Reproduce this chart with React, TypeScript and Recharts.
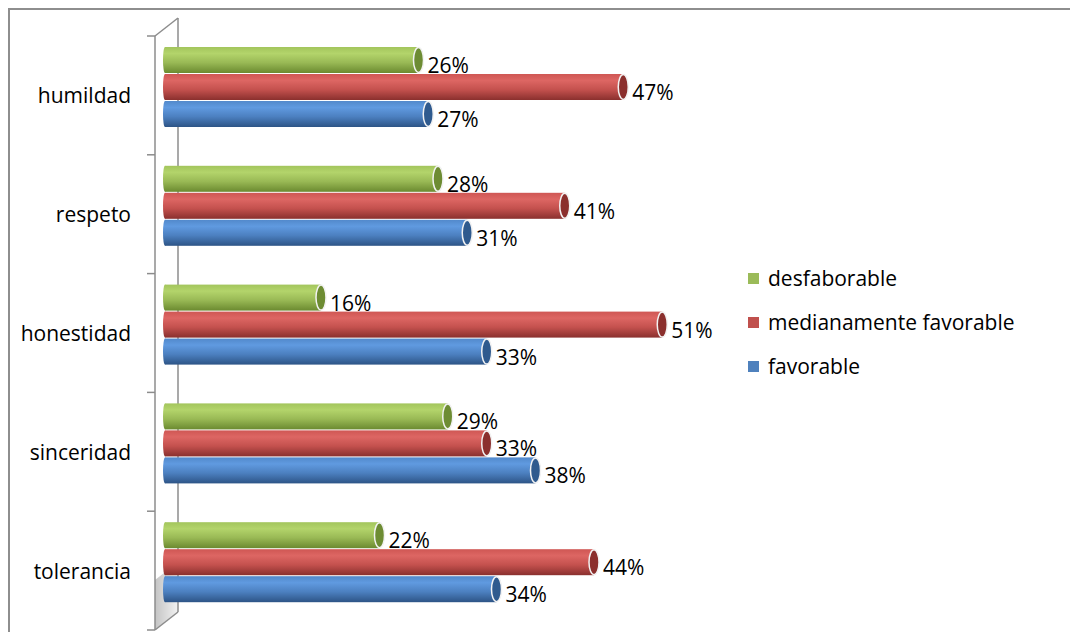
import React from 'react';
import { BarChart, Bar, XAxis, YAxis, Legend, LabelList } from 'recharts';

const categories = ['humildad', 'respeto', 'honestidad', 'sinceridad', 'tolerancia'];
const seriesNames = ['desfaborable', 'medianamente favorable', 'favorable'];
const desfaborable = [26, 28, 16, 29, 22];
const medianamente = [47, 41, 51, 33, 44];
const favorable = [27, 31, 33, 38, 34];

const data = categories.map((name, i) => ({
  name,
  desf: desfaborable[i],
  med: medianamente[i],
  fav: favorable[i],
}));

const FONT = '"Open Sans", sans-serif';
const CHART_W = 1064;
const CHART_H = 640;
const PLOT_LEFT = 155;
const PLOT_W = 585;
const PLOT_TOP = 18;
const PLOT_H = 594;
const BAND = PLOT_H / categories.length;
// 3D wall offset (front face sits lower-left of the bars)
const FRONT_X = 145;
const BACK_X = 168;
const DEPTH_Y = 18;
const FRONT_DY = 8;

function Cylinder(props: any) {
  const { x, y, width, height, gradId, capColor } = props;
  if (!width || width <= 0) return null;
  const cy = y + height / 2;
  return (
    <g>
      <ellipse cx={x} cy={cy} rx={2} ry={height / 2} fill={`url(#${gradId})`} />
      <rect x={x} y={y} width={width} height={height} fill={`url(#${gradId})`} />
      <ellipse
        cx={x + width}
        cy={cy}
        rx={5}
        ry={height / 2 - 0.5}
        fill={capColor}
        stroke="#f2f2f2"
        strokeWidth={1.5}
      />
    </g>
  );
}

function ValueLabel(props: any) {
  const { x, y, width, height, value } = props;
  return (
    <text
      x={x + width + 9}
      y={y + height / 2 + 5}
      dominantBaseline="central"
      fontFamily={FONT}
      fontSize={21}
      fill="#000"
    >
      {value}%
    </text>
  );
}

function CategoryTick(props: any) {
  const { y, payload } = props;
  return (
    <text
      x={121}
      y={y + FRONT_DY}
      textAnchor="end"
      dominantBaseline="central"
      fontFamily={FONT}
      fontSize={21}
      fill="#000"
    >
      {payload.value}
    </text>
  );
}

function LegendBox(props: any) {
  const { payload } = props;
  const items = [...(payload || [])].sort(
    (a: any, b: any) => seriesNames.indexOf(a.value) - seriesNames.indexOf(b.value)
  );
  return (
    <div style={{ fontFamily: FONT, fontSize: 21, color: '#000' }}>
      {items.map((p: any) => (
        <div key={p.value} style={{ display: 'flex', alignItems: 'center', height: 44 }}>
          <span
            style={{ width: 11, height: 11, background: p.color, marginRight: 9, display: 'inline-block' }}
          />
          <span>{p.value}</span>
        </div>
      ))}
    </div>
  );
}

function Wall() {
  const frontTop = PLOT_TOP + FRONT_DY;
  const frontBottom = frontTop + PLOT_H;
  const ticks = Array.from({ length: categories.length + 1 }, (_, i) => frontTop + i * BAND);
  return (
    <svg
      width={CHART_W}
      height={CHART_H}
      style={{ position: 'absolute', left: 0, top: 0 }}
    >
      <defs>
        <linearGradient id="floorShade" x1="0" y1="0" x2="1" y2="0">
          <stop offset="0" stopColor="#c4c4c4" />
          <stop offset="1" stopColor="#f2f2f2" />
        </linearGradient>
      </defs>
      <polygon
        points={`${FRONT_X},${frontBottom - 50} ${BACK_X},${frontBottom - 50 - DEPTH_Y} ${BACK_X},${frontBottom - DEPTH_Y} ${FRONT_X},${frontBottom}`}
        fill="url(#floorShade)"
      />
      <line x1={BACK_X} y1={frontTop - DEPTH_Y} x2={BACK_X} y2={frontBottom - DEPTH_Y} stroke="#8c8c8c" strokeWidth={1.5} />
      <line x1={FRONT_X} y1={frontTop} x2={FRONT_X} y2={frontBottom} stroke="#8c8c8c" strokeWidth={1.5} />
      <line x1={FRONT_X} y1={frontTop} x2={BACK_X} y2={frontTop - DEPTH_Y} stroke="#8c8c8c" strokeWidth={1.5} />
      <line x1={FRONT_X} y1={frontBottom} x2={BACK_X} y2={frontBottom - DEPTH_Y} stroke="#8c8c8c" strokeWidth={1.5} />
      {ticks.map((t, i) => (
        <line key={i} x1={FRONT_X - 8} y1={t} x2={FRONT_X} y2={t} stroke="#8c8c8c" strokeWidth={1.5} />
      ))}
    </svg>
  );
}

export default function App() {
  return (
    <div
      style={{
        width: CHART_W,
        height: CHART_H,
        border: '2px solid #8e8e8e',
        position: 'relative',
        background: '#fff',
      }}
    >
      <Wall />
      <div style={{ position: 'absolute', left: 0, top: 0 }}>
        <BarChart
          width={CHART_W}
          height={CHART_H}
          data={data}
          layout="vertical"
          barSize={26}
          barGap={1}
          margin={{ top: PLOT_TOP, right: CHART_W - PLOT_LEFT - PLOT_W, bottom: CHART_H - PLOT_TOP - PLOT_H, left: 0 }}
        >
          <defs>
            <linearGradient id="gGreen" x1="0" y1="0" x2="0" y2="1">
              <stop offset="0" stopColor="#a3c55c" />
              <stop offset="0.25" stopColor="#b3d46b" />
              <stop offset="0.6" stopColor="#99b955" />
              <stop offset="1" stopColor="#6b8a30" />
            </linearGradient>
            <linearGradient id="gRed" x1="0" y1="0" x2="0" y2="1">
              <stop offset="0" stopColor="#cf5754" />
              <stop offset="0.25" stopColor="#dd6663" />
              <stop offset="0.6" stopColor="#c4514e" />
              <stop offset="1" stopColor="#8a302e" />
            </linearGradient>
            <linearGradient id="gBlue" x1="0" y1="0" x2="0" y2="1">
              <stop offset="0" stopColor="#5289cb" />
              <stop offset="0.25" stopColor="#609ae0" />
              <stop offset="0.6" stopColor="#4c80c0" />
              <stop offset="1" stopColor="#2d5486" />
            </linearGradient>
          </defs>
          <XAxis type="number" domain={[0, 60]} hide />
          <YAxis
            type="category"
            dataKey="name"
            width={PLOT_LEFT}
            axisLine={false}
            tickLine={false}
            interval={0}
            tick={<CategoryTick />}
          />
          <Legend
            layout="vertical"
            align="center"
            verticalAlign="middle"
            wrapperStyle={{ left: 738, top: 246, width: 300 }}
            content={<LegendBox />}
          />
          <Bar
            dataKey="desf"
            name="desfaborable"
            fill="#9bbb59"
            isAnimationActive={false}
            shape={(p: any) => <Cylinder {...p} gradId="gGreen" capColor="#6d8c33" />}
          >
            <LabelList dataKey="desf" content={<ValueLabel />} />
          </Bar>
          <Bar
            dataKey="med"
            name="medianamente favorable"
            fill="#c0504d"
            isAnimationActive={false}
            shape={(p: any) => <Cylinder {...p} gradId="gRed" capColor="#8b2f2d" />}
          >
            <LabelList dataKey="med" content={<ValueLabel />} />
          </Bar>
          <Bar
            dataKey="fav"
            name="favorable"
            fill="#4f81bd"
            isAnimationActive={false}
            shape={(p: any) => <Cylinder {...p} gradId="gBlue" capColor="#2f5a8e" />}
          >
            <LabelList dataKey="fav" content={<ValueLabel />} />
          </Bar>
        </BarChart>
      </div>
    </div>
  );
}
